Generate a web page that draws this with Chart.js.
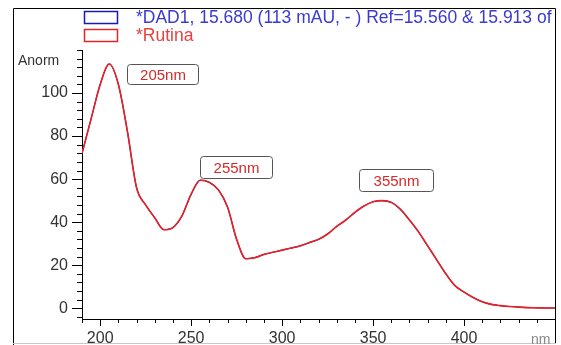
<!DOCTYPE html>
<html>
<head>
<meta charset="utf-8">
<script src="https://cdn.jsdelivr.net/npm/chart.js@4.4.0/dist/chart.umd.min.js"></script>
<style>
  html, body { margin: 0; padding: 0; background: #fff; }
</style>
</head>
<body>
<canvas id="myChart" width="561" height="345"></canvas>
<script>
// spectrum (nm / Anorm)
const wavelengths = [190, 195, 200, 205, 210, 215, 220, 225, 230, 235, 240, 245, 250, 255, 260, 265, 270, 275, 280, 285,
  290, 295, 300, 305, 310, 315, 320, 325, 330, 335, 340, 345, 350, 355, 360, 365, 370, 375, 380, 385,
  390, 395, 400, 405, 410, 415, 420, 425, 430, 435, 440, 445, 450];
const absorbance = [72, 88, 104, 113.5, 104, 82, 56, 48, 42, 36.5, 37.5, 43, 53, 59.5, 58.5, 55, 47, 32, 23, 23.5,
  25, 26, 27, 28, 29, 30.5, 32, 34.5, 38, 41, 44.5, 47.5, 49.5, 50, 49.2, 46, 41, 35.5, 29, 22.5,
  16, 10.5, 7.5, 5, 3, 1.8, 1.2, 0.8, 0.5, 0.3, 0.2, 0.1, 0.1];
const seriesNames = ['*DAD1, 15.680 (113 mAU, - ) Ref=15.560 & 15.913 of C', '*Rutina'];
const yTickLabels = [0, 20, 40, 60, 80, 100];
const xTickLabels = [200, 250, 300, 350, 400];
const peakLabels = ['205nm', '255nm', '355nm'];

// where the peak boxes sit, in data units
const peakBoxes = [
  { x0: 214.6, x1: 253.9, y0: 113.5, y1: 104.2 },
  { x0: 254.9, x1: 294.3, y0: 70.7, y1: 60.7 },
  { x0: 342.4, x1: 383.1, y0: 64.7, y1: 54.5 }
];

const font = 'Liberation Sans, Arial, sans-serif';

const decor = {
  id: 'decor',
  afterDraw(chart) {
    const ctx = chart.ctx;
    const xs = chart.scales.x, ys = chart.scales.y;
    const area = chart.chartArea;
    ctx.save();
    ctx.strokeStyle = '#000';
    ctx.lineWidth = 1;
    // y ticks, minor every 4
    for (let v = -4; v <= 120; v += 4) {
      const py = Math.round(ys.getPixelForValue(v)) + 0.5;
      const len = yTickLabels.includes(v) ? 10 : 5;
      ctx.beginPath();
      ctx.moveTo(area.left - len, py);
      ctx.lineTo(area.left, py);
      ctx.stroke();
    }
    // x ticks, minor every 10
    for (let v = 190; v <= 450; v += 10) {
      const px = Math.round(xs.getPixelForValue(v)) + 0.5;
      const len = xTickLabels.includes(v) ? 7 : 4;
      ctx.beginPath();
      ctx.moveTo(px, area.bottom);
      ctx.lineTo(px, area.bottom + len);
      ctx.stroke();
    }
    // outer frame
    ctx.beginPath();
    ctx.moveTo(13.5, 345);
    ctx.lineTo(13.5, 8.5);
    ctx.lineTo(555.5, 8.5);
    ctx.lineTo(555.5, 343);
    ctx.stroke();
    ctx.strokeStyle = '#c8c8c8';
    ctx.beginPath();
    ctx.moveTo(13, 343.5);
    ctx.lineTo(556, 343.5);
    ctx.stroke();

    // legend
    const legendColors = [['#1a1ab0', '#3a3ad0'], ['#e02828', '#e84040']];
    ctx.save();
    ctx.beginPath();
    ctx.rect(14, 9, 541, 40);
    ctx.clip();
    seriesNames.forEach((name, i) => {
      const top = 11 + i * 18;
      ctx.strokeStyle = legendColors[i][0];
      ctx.lineWidth = 1.5;
      ctx.strokeRect(84.5, top + 0.5, 33, 12);
      ctx.fillStyle = legendColors[i][1];
      ctx.font = '17.5px ' + font;
      ctx.textBaseline = 'alphabetic';
      ctx.fillText(name, 136, top + 12);
    });
    ctx.restore();

    // peak labels
    ctx.lineWidth = 1;
    peakLabels.forEach((t, i) => {
      const b = peakBoxes[i];
      const x0 = Math.round(xs.getPixelForValue(b.x0)) + 0.5;
      const x1 = Math.round(xs.getPixelForValue(b.x1)) + 0.5;
      const y0 = Math.round(ys.getPixelForValue(b.y0)) + 0.5;
      const y1 = Math.round(ys.getPixelForValue(b.y1)) + 0.5;
      ctx.fillStyle = '#fff';
      ctx.strokeStyle = '#555';
      ctx.beginPath();
      ctx.roundRect(x0, y0, x1 - x0, y1 - y0, 3);
      ctx.fill();
      ctx.stroke();
      ctx.fillStyle = '#d42a2a';
      ctx.font = '15px ' + font;
      ctx.textAlign = 'center';
      ctx.textBaseline = 'middle';
      ctx.fillText(t, (x0 + x1) / 2, (y0 + y1) / 2 + 1);
    });

    // axis titles
    ctx.textAlign = 'left';
    ctx.textBaseline = 'alphabetic';
    ctx.fillStyle = '#333';
    ctx.font = '14px ' + font;
    ctx.fillText('Anorm', 18, 65);
    ctx.fillStyle = '#888';
    ctx.font = '14px ' + font;
    ctx.fillText('nm', 531, 344);
    ctx.restore();
  }
};

const ctx = document.getElementById('myChart').getContext('2d');
const myChart = new Chart(ctx, {
  type: 'line',
  data: {
    labels: wavelengths,
    datasets: [{
      label: seriesNames[0],
      data: absorbance,
      borderColor: '#2a2050',
      borderWidth: 1.2,
      pointRadius: 0,
      cubicInterpolationMode: 'monotone',
      order: 2
    },
    {
      label: seriesNames[1],
      data: absorbance,
      borderColor: '#e8202a',
      borderWidth: 1.6,
      pointRadius: 0,
      cubicInterpolationMode: 'monotone',
      order: 1
    }]
  },
  options: {
    responsive: false,
    animation: false,
    layout: { padding: { top: 50, left: 0, right: 6, bottom: 0 } },
    plugins: { legend: { display: false }, tooltip: { enabled: false } },
    scales: {
      x: {
        type: 'linear',
        min: 190,
        max: 450,
        afterFit: (s) => { s.height = 26; },
        afterBuildTicks: (s) => { s.ticks = xTickLabels.map(v => ({ value: v })); },
        grid: { drawOnChartArea: false, drawTicks: false },
        border: { color: '#000', width: 1 },
        ticks: {
          autoSkip: false,
          maxRotation: 0,
          padding: 10,
          color: '#333',
          font: { family: font, size: 16 }
        }
      },
      y: {
        min: -5,
        max: 120,
        afterFit: (s) => { s.width = 82; },
        afterBuildTicks: (s) => { s.ticks = yTickLabels.map(v => ({ value: v })); },
        grid: { drawOnChartArea: false, drawTicks: false },
        border: { color: '#000', width: 1 },
        ticks: {
          autoSkip: false,
          padding: 14,
          color: '#333',
          font: { family: font, size: 16 }
        }
      }
    }
  },
  plugins: [decor]
});
</script>
</body>
</html>
